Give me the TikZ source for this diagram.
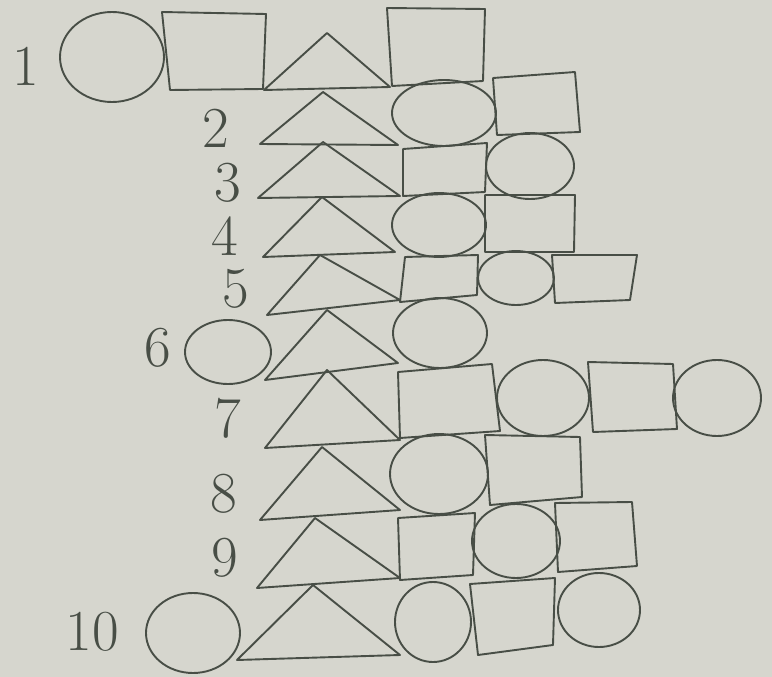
\documentclass[tikz,border=0pt]{standalone}
\usepackage{tikz}
\definecolor{paper}{RGB}{214,214,206}
\definecolor{pencil}{RGB}{72,78,70}
\tikzset{
  outline/.style={draw=pencil,line width=1.9pt,line join=round},
  numlabel/.style={text=pencil,font=\fontsize{58}{58}\selectfont,inner sep=0pt}
}
\begin{document}
\begin{tikzpicture}[x=1pt,y=-1pt]
		% page
		\fill[paper] (0,0) rectangle (772,677);
		\useasboundingbox (0,0) rectangle (772,677);
		
		% row labels
		\node[numlabel] (n1) at (26,66) {1};
		\node[numlabel] (n2) at (216,128) {2};
		\node[numlabel] (n3) at (228,183) {3};
		\node[numlabel] (n4) at (225,236) {4};
		\node[numlabel] (n5) at (236,289) {5};
		\node[numlabel] (n6) at (158,348) {6};
		\node[numlabel] (n7) at (228,418) {7};
		\node[numlabel] (n8) at (224,494) {8};
		\node[numlabel] (n9) at (225,558) {9};
		\node[numlabel] (n10) at (92,632) {10};
		
		% row 1
		\draw[outline] (112,57) ellipse [x radius=52pt,y radius=45pt];
		\draw[outline] (162,12) -- (266,14) -- (263,89) -- (170,90) -- cycle;
		\draw[outline] (264,90) -- (327,33) -- (390,87) -- cycle;
		\draw[outline] (387,8) -- (485,9) -- (483,81) -- (392,86) -- cycle;
		% row 2
		\draw[outline] (260,144) -- (323,92) -- (398,145) -- cycle;
		\draw[outline] (444,113) ellipse [x radius=52pt,y radius=33pt];
		\draw[outline] (493,78) -- (575,72) -- (580,132) -- (497,135) -- cycle;
		% row 3
		\draw[outline] (258,198) -- (323,142) -- (400,196) -- cycle;
		\draw[outline] (403,149) -- (487,143) -- (485,192) -- (403,196) -- cycle;
		\draw[outline] (530,166) ellipse [x radius=44pt,y radius=33pt];
		% row 4
		\draw[outline] (263,257) -- (322,197) -- (395,252) -- cycle;
		\draw[outline] (439,225) ellipse [x radius=47pt,y radius=32pt];
		\draw[outline] (485,195) -- (575,195) -- (574,252) -- (485,252) -- cycle;
		% row 5
		\draw[outline] (267,315) -- (320,255) -- (400,300) -- cycle;
		\draw[outline] (405,257) -- (478,255) -- (477,295) -- (400,302) -- cycle;
		\draw[outline] (516,278) ellipse [x radius=38pt,y radius=27pt];
		\draw[outline] (552,255) -- (637,255) -- (630,300) -- (555,303) -- cycle;
		% row 6
		\draw[outline] (228,352) ellipse [x radius=43pt,y radius=32pt];
		\draw[outline] (265,380) -- (327,310) -- (398,363) -- cycle;
		\draw[outline] (440,333) ellipse [x radius=47pt,y radius=35pt];
		% row 7
		\draw[outline] (265,448) -- (327,370) -- (400,440) -- cycle;
		\draw[outline] (398,372) -- (492,364) -- (500,431) -- (400,438) -- cycle;
		\draw[outline] (543,398) ellipse [x radius=46pt,y radius=38pt];
		\draw[outline] (588,362) -- (673,364) -- (677,429) -- (593,432) -- cycle;
		\draw[outline] (717,398) ellipse [x radius=44pt,y radius=38pt];
		% row 8
		\draw[outline] (260,520) -- (322,447) -- (400,510) -- cycle;
		\draw[outline] (439,474) ellipse [x radius=49pt,y radius=40pt];
		\draw[outline] (485,435) -- (580,437) -- (582,497) -- (490,505) -- cycle;
		% row 9
		\draw[outline] (257,588) -- (315,518) -- (400,578) -- cycle;
		\draw[outline] (398,518) -- (475,513) -- (473,575) -- (400,580) -- cycle;
		\draw[outline] (516,541) ellipse [x radius=44pt,y radius=37pt];
		\draw[outline] (555,503) -- (632,502) -- (637,566) -- (558,572) -- cycle;
		% row 10
		\draw[outline] (193,633) ellipse [x radius=47pt,y radius=40pt];
		\draw[outline] (237,660) -- (313,585) -- (400,655) -- cycle;
		\draw[outline] (433,622) ellipse [x radius=38pt,y radius=40pt];
		\draw[outline] (470,584) -- (555,578) -- (553,645) -- (478,655) -- cycle;
		\draw[outline] (599,610) ellipse [x radius=41pt,y radius=37pt];
	\end{tikzpicture}
\end{document}
